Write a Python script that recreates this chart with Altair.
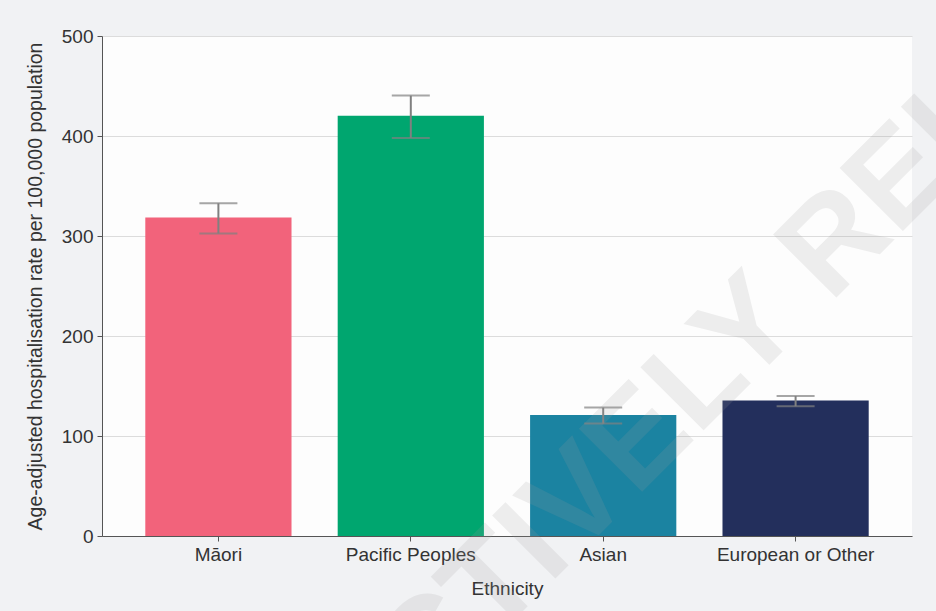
import altair as alt
import pandas as pd

categories = ["Māori", "Pacific Peoples", "Asian", "European or Other"]
rates = [318.5, 420.3, 121.0, 135.5]
lower = [302.5, 398.0, 112.4, 129.8]
upper = [332.7, 440.4, 128.4, 140.0]
colors = ["#f2637b", "#00a66f", "#1b83a1", "#232f5c"]

df = pd.DataFrame({"Ethnicity": categories, "Rate": rates, "Lower": lower, "Upper": upper})

FONT = "Liberation Sans"

x_enc = alt.X(
    "Ethnicity:N",
    sort=categories,
    scale=alt.Scale(paddingInner=0.24, paddingOuter=0.225),
    axis=alt.Axis(
        title="Ethnicity", labelAngle=0, tickSize=5, labelPadding=4,
        titlePadding=15, domainColor="#555555", tickColor="#555555",
        labelColor="#333333", titleColor="#333333", labelFontSize=19,
        titleFontSize=19, labelFont=FONT, titleFont=FONT,
        titleFontWeight="normal", grid=False,
    ),
)

y_scale = alt.Scale(domain=[0, 500], nice=False)

bars = alt.Chart(df).mark_bar().encode(
    x=x_enc,
    y=alt.Y(
        "Rate:Q", scale=y_scale,
        axis=alt.Axis(
            title="Age-adjusted hospitalisation rate per 100,000 population",
            values=[0, 100, 200, 300, 400, 500], tickSize=5, labelPadding=4,
            titlePadding=16, domainColor="#555555", tickColor="#555555",
            gridColor="#dcdcdc", labelColor="#333333", titleColor="#333333",
            labelFontSize=19, titleFontSize=19.5, labelFont=FONT, titleFont=FONT,
            titleFontWeight="normal",
        ),
    ),
    color=alt.Color("Ethnicity:N", scale=alt.Scale(domain=categories, range=colors), legend=None),
)

err = alt.Chart(df).mark_rule(color="#808080", strokeWidth=2).encode(
    x=alt.X("Ethnicity:N", sort=categories),
    y=alt.Y("Lower:Q", scale=y_scale),
    y2="Upper:Q",
)

cap_lo = alt.Chart(df).mark_tick(color="#808080", thickness=2, size=38).encode(
    x=alt.X("Ethnicity:N", sort=categories),
    y=alt.Y("Lower:Q", scale=y_scale),
)
cap_hi = alt.Chart(df).mark_tick(color="#808080", thickness=2, size=38).encode(
    x=alt.X("Ethnicity:N", sort=categories),
    y=alt.Y("Upper:Q", scale=y_scale),
)

watermark_text = ["PROACTIVELY RELEASED"]
wm = alt.Chart(pd.DataFrame({"t": watermark_text})).mark_text(
    font=FONT, fontSize=130, fontWeight="bold", angle=315, align="center",
    baseline="alphabetic", color="#9c9c9c", opacity=0.16,
).encode(text="t:N", x=alt.value(644), y=alt.value(352))

chart = alt.layer(bars, err, cap_lo, cap_hi, wm).properties(
    width=810, height=500,
    background="#f1f2f4",
    padding={"left": 102, "top": 36, "right": 24, "bottom": 75},
    autosize=alt.AutoSizeParams(type="none"),
).configure_view(fill="#fdfdfd", stroke=None)

chart.save("out.html", embed_options={"renderer": "svg", "actions": False})
